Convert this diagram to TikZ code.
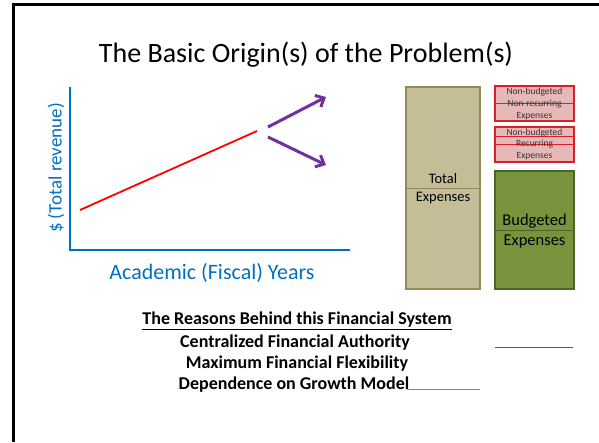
\documentclass[tikz,border=0pt]{standalone}
\usepackage{fontspec}
\setmainfont{Carlito}
\usetikzlibrary{arrows.meta}
\definecolor{axblue}{RGB}{0,112,192}
\definecolor{arrpurple}{RGB}{112,48,160}
\definecolor{tanfill}{RGB}{196,189,151}
\definecolor{tanline}{RGB}{148,138,84}
\definecolor{pinkfill}{RGB}{230,184,183}
\definecolor{redline}{RGB}{220,30,40}
\definecolor{greenfill}{RGB}{119,147,60}
\definecolor{greenline}{RGB}{79,98,40}
\tikzset{
  txt/.style={inner sep=0pt, align=center},
  smalltxt/.style={txt, font=\fontsize{9.5}{11}\selectfont, text=black!80},
  reason/.style={txt, font=\bfseries\fontsize{18}{20}\selectfont},
  purplearrow/.style={arrpurple, line width=3pt, -{Straight Barb[length=7pt,width=13pt,line width=3pt]}},
}
\begin{document}
\begin{tikzpicture}[x=1pt,y=-1pt]
\useasboundingbox (0,0) rectangle (599,442);
% frame
\draw[line width=3pt] (13,442) -- (13,4) -- (599,4);
% title
\node[txt, font=\fontsize{28}{32}\selectfont] (title) at (306,55) {The Basic Origin(s) of the Problem(s)};
% axes
\coordinate (ytop) at (70,87);
\coordinate (orig) at (70,250);
\coordinate (xend) at (350,250);
\draw[axblue, line width=2.5pt] (ytop) -- (orig) -- (xend);
\node[txt, text=axblue, rotate=90, font=\fontsize{19}{23}\selectfont] (ylab) at (56,168) {\$ (Total revenue)};
\node[txt, text=axblue, font=\fontsize{22}{26}\selectfont] (xlab) at (212,273) {Academic (Fiscal) Years};
% red line
\coordinate (r1) at (80,210);
\coordinate (r2) at (257,131);
\draw[red, line width=1.8pt] (r1) -- (r2);
% purple arrows
\coordinate (a1s) at (268,127);
\coordinate (a1e) at (326,97);
\coordinate (a2s) at (268,137);
\coordinate (a2e) at (326,165);
\draw[purplearrow] (a1s) -- (a1e);
\draw[purplearrow] (a2s) -- (a2e);
% total expenses box
\draw[fill=tanfill, draw=tanline, line width=1.5pt] (406,87) rectangle (480,289);
\draw[tanline, line width=0.8pt] (406,188) -- (480,188);
\node[txt, font=\fontsize{14.5}{17}\selectfont] (tot1) at (443,179) {Total};
\node[txt, font=\fontsize{14.5}{17}\selectfont] (tot2) at (443,198) {Expenses};
% non-budgeted non-recurring
\draw[fill=pinkfill, draw=redline, line width=1.2pt] (495,86) rectangle (574,121);
\draw[redline, line width=0.8pt] (495,103) -- (574,103);
\node[smalltxt] (nr1) at (534.5,92) {Non-budgeted};
\node[smalltxt] (nr2) at (534.5,104) {Non-recurring};
\node[smalltxt] (nr3) at (534.5,116) {Expenses};
% non-budgeted recurring
\draw[fill=pinkfill, draw=redline, line width=1.2pt] (495,127) rectangle (574,162);
\draw[redline, line width=0.8pt] (495,136) -- (574,136);
\draw[redline, line width=0.8pt] (495,144) -- (574,144);
\node[smalltxt] (rc1) at (534.5,133) {Non-budgeted};
\node[smalltxt] (rc2) at (534.5,144) {Recurring};
\node[smalltxt] (rc3) at (534.5,156) {Expenses};
% budgeted
\draw[fill=greenfill, draw=greenline, line width=1.5pt] (495,171) rectangle (574,289);
\draw[greenline, line width=0.8pt] (495,230) -- (574,230);
\node[txt, font=\fontsize{16.5}{19}\selectfont] (b1) at (534.5,221) {Budgeted};
\node[txt, font=\fontsize{16.5}{19}\selectfont] (b2) at (534.5,242) {Expenses};
% reasons
\node[reason] (h) at (297,321) {\underline{The Reasons Behind this Financial System}};
\node[reason] (l1) at (295,343) {Centralized Financial Authority};
\node[reason] (l2) at (297,364) {Maximum Financial Flexibility};
\node[reason] (l3) at (294,385) {Dependence on Growth Model};
\coordinate (g1) at (495,347);
\coordinate (g2) at (573,347);
\draw[greenline, line width=1pt] (g1) -- (g2);
\coordinate (t1) at (407,389);
\coordinate (t2) at (480,389);
\draw[tanline, line width=1pt] (t1) -- (t2);
\end{tikzpicture}
\end{document}
